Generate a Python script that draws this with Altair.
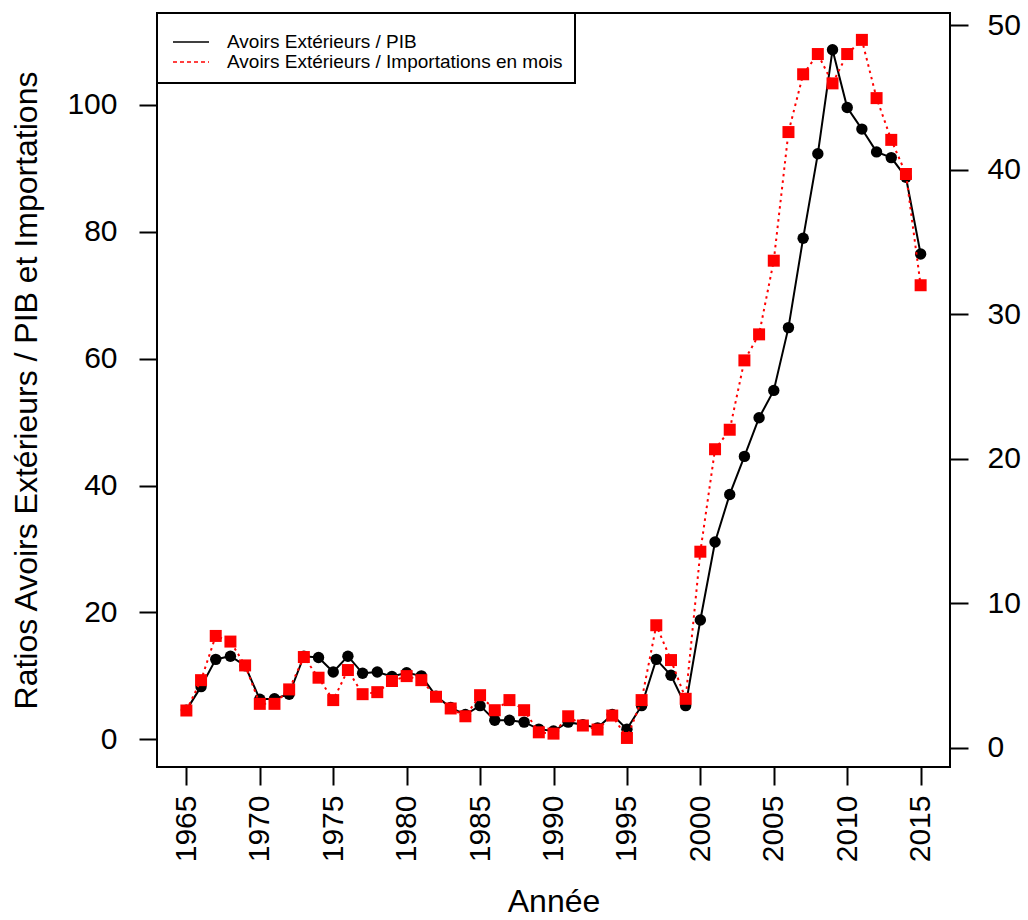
import altair as alt
import pandas as pd

# Annual series
years = list(range(1965, 2016))

# Avoirs extérieurs / PIB (left axis, %)
ratio_pib = [
    4.6, 8.3, 12.6, 13.1, 11.6, 6.3, 6.4, 7.1, 13.1, 12.9,
    10.6, 13.1, 10.4, 10.6, 9.9, 10.5, 10.0, 6.8, 5.0, 3.9,
    5.3, 3.0, 3.0, 2.7, 1.6, 1.3, 2.7, 2.3, 1.8, 3.9,
    1.6, 5.3, 12.6, 10.1, 5.3, 18.8, 31.1, 38.6, 44.6, 50.7,
    55.0, 64.9, 79.0, 92.3, 108.7, 99.6, 96.2, 92.6, 91.7, 88.6,
    76.5,
]

# Avoirs extérieurs / importations en mois (right axis)
ratio_imports = [
    2.57, 4.67, 7.73, 7.34, 5.69, 3.03, 3.03, 4.03, 6.27, 4.84,
    3.29, 5.37, 3.70, 3.84, 4.61, 4.95, 4.67, 3.52, 2.71, 2.17,
    3.63, 2.59, 3.29, 2.59, 1.06, 0.97, 2.17, 1.53, 1.25, 2.22,
    0.67, 3.29, 8.47, 6.06, 3.38, 13.56, 20.65, 22.0, 26.8, 28.6,
    33.7, 42.6, 46.6, 48.0, 45.97, 48.0, 48.98, 44.95, 42.06, 39.7,
    32.0,
]

series_labels = ["Avoirs Extérieurs / PIB", "Avoirs Extérieurs / Importations en mois"]
x_ticks = list(range(1965, 2016, 5))
left_ticks = [0, 20, 40, 60, 80, 100]
right_ticks = [0, 10, 20, 30, 40, 50]

df = pd.DataFrame({"annee": years, "pib": ratio_pib, "imp": ratio_imports})

FONT = "Liberation Sans"

x_enc = alt.X(
    "annee:Q",
    scale=alt.Scale(domain=[1963, 2017], nice=False, zero=False),
    axis=alt.Axis(
        values=x_ticks, format="d", labelAngle=270, labelAlign="right",
        labelBaseline="middle", labelPadding=10, title="Année",
        titleY=144, titleBaseline="alphabetic",
    ),
)

y_left = alt.Y(
    "pib:Q",
    scale=alt.Scale(domain=[-4.37, 114.5], nice=False, zero=False),
    axis=alt.Axis(
        values=left_ticks, orient="left", labelPadding=22,
        title="Ratios Avoirs Extérieurs  / PIB et Importations",
        titleX=-131, titleY=377, titleBaseline="middle", titleAngle=270,
    ),
)

y_right = alt.Y(
    "imp:Q",
    scale=alt.Scale(domain=[-1.34, 50.84], nice=False, zero=False),
    axis=alt.Axis(values=right_ticks, orient="right", labelPadding=19, title=None),
)

base = alt.Chart(df)

pib_line = base.mark_line(color="black", strokeWidth=2).encode(x=x_enc, y=y_left)
pib_pts = base.mark_point(shape="circle", filled=True, color="black", size=130, opacity=1).encode(x=x_enc, y=y_left)
left_layer = alt.layer(pib_line, pib_pts)

imp_line = base.mark_line(color="red", strokeWidth=2, strokeDash=[2.5, 4]).encode(x=x_enc, y=y_right)
imp_pts = base.mark_point(shape="square", filled=True, color="red", size=144, opacity=1).encode(x=x_enc, y=y_right)
right_layer = alt.layer(imp_line, imp_pts)

# Legend box in the top-left corner of the plot
leg_df = pd.DataFrame({"label": [series_labels[0]]})
leg_box = alt.Chart(leg_df).mark_rect(fill="white", stroke="black", strokeWidth=2).encode(
    x=alt.value(0), x2=alt.value(418), y=alt.value(0), y2=alt.value(70)
)
leg_line1 = alt.Chart(leg_df).mark_rule(color="black", strokeWidth=1.5).encode(
    x=alt.value(16), x2=alt.value(52), y=alt.value(29)
)
leg_line2 = alt.Chart(leg_df).mark_rule(color="red", strokeWidth=1.5, strokeDash=[4, 3]).encode(
    x=alt.value(16), x2=alt.value(52), y=alt.value(49)
)
leg_text1 = alt.Chart(pd.DataFrame({"label": [series_labels[0]]})).mark_text(
    align="left", baseline="middle", font=FONT, fontSize=19, color="black"
).encode(x=alt.value(70), y=alt.value(29), text="label:N")
leg_text2 = alt.Chart(pd.DataFrame({"label": [series_labels[1]]})).mark_text(
    align="left", baseline="middle", font=FONT, fontSize=19, color="black"
).encode(x=alt.value(70), y=alt.value(49), text="label:N")

chart = (
    alt.layer(left_layer, right_layer, leg_box, leg_line1, leg_line2, leg_text1, leg_text2)
    .resolve_scale(y="independent")
    .properties(
        width=793,
        height=754,
        autosize=alt.AutoSizeParams(type="none"),
        padding={"left": 157, "top": 13, "right": 78, "bottom": 153},
        background="white",
    )
    .configure_view(stroke="black", strokeWidth=2)
    .configure_axis(
        domain=False, grid=False, ticks=True, tickSize=18, tickWidth=2, tickColor="black",
        labelFont=FONT, labelFontSize=30, labelColor="black",
        titleFont=FONT, titleFontSize=32, titleFontWeight="normal", titleColor="black",
    )
)

chart.save("out.html", embed_options={"renderer": "svg", "actions": False})
